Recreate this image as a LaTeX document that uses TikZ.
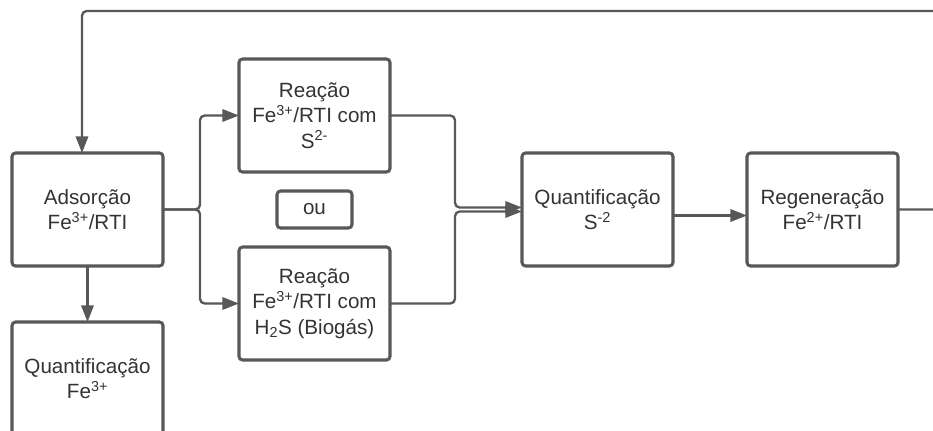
\documentclass[tikz,border=0pt]{standalone}
\usepackage{fontspec}
\setmainfont{Liberation Sans}
\usepackage{xcolor}
\usetikzlibrary{arrows.meta, positioning}
\definecolor{lineGray}{RGB}{88,88,88}
\definecolor{textGray}{RGB}{51,51,51}

\begin{document}
\begin{tikzpicture}[
  etapa/.style={
    rectangle,
    rounded corners=3pt,
    draw=lineGray,
    line width=2.6pt,
    fill=white,
    minimum width=4.53cm,
    minimum height=3.39cm,
    inner sep=0pt,
    outer sep=0pt,
    align=center,
    text=textGray,
    font=\fontsize{17.6}{21.8}\selectfont
  },
  nota/.style={
    etapa,
    minimum width=2.25cm,
    minimum height=1.11cm
  },
  seta/.style={-{Triangle[length=0.5cm,width=0.37cm]}, line width=2pt, color=lineGray, rounded corners=4pt},
]

\useasboundingbox (0,0) rectangle (27.99,-12.93);
\clip (0,0) rectangle (27.99,-12.93);

\node[etapa] (adsorcao) at (2.625,-6.285) {Adsorção\\Fe\textsuperscript{3+}/RTI};

\node[etapa, below=1.68cm of adsorcao] (quantfe) {Quantificação\\Fe\textsuperscript{3+}};

\node[nota, right=3.42cm of adsorcao] (ou) {ou};

\node[etapa, above=0.57cm of ou] (reacaoS) {Reação\\Fe\textsuperscript{3+}/RTI com\\S\textsuperscript{2-}};

\node[etapa, below=0.57cm of ou] (reacaoH) {Reação\\Fe\textsuperscript{3+}/RTI com\\H\textsubscript{2}S (Biogás)};

\node[etapa, right=5.1cm of ou] (quantS) {Quantificação\\S\textsuperscript{-2}};

\node[etapa, right=2.22cm of quantS] (regen) {Regeneração\\Fe\textsuperscript{2+}/RTI};

\coordinate (volta) at (29.5,-0.33);

\draw[seta] (adsorcao) -- (quantfe);
\draw[seta] (adsorcao.east) -- ++(1.11cm,0) |- (reacaoS.west);
\draw[seta] (adsorcao.east) -- ++(1.11cm,0) |- (reacaoH.west);
\draw[seta] (reacaoS.east) -- ++(1.95cm,0) |- ([yshift=0.06cm]quantS.west);
\draw[seta] (reacaoH.east) -- ++(1.95cm,0) |- ([yshift=-0.06cm]quantS.west);
\draw[seta] ([yshift=-0.18cm]quantS.east) -- ([yshift=-0.18cm]regen.west);
\draw[seta] (regen.east) -| (volta) -| ([xshift=-0.165cm]adsorcao.north);

\end{tikzpicture}
\end{document}
